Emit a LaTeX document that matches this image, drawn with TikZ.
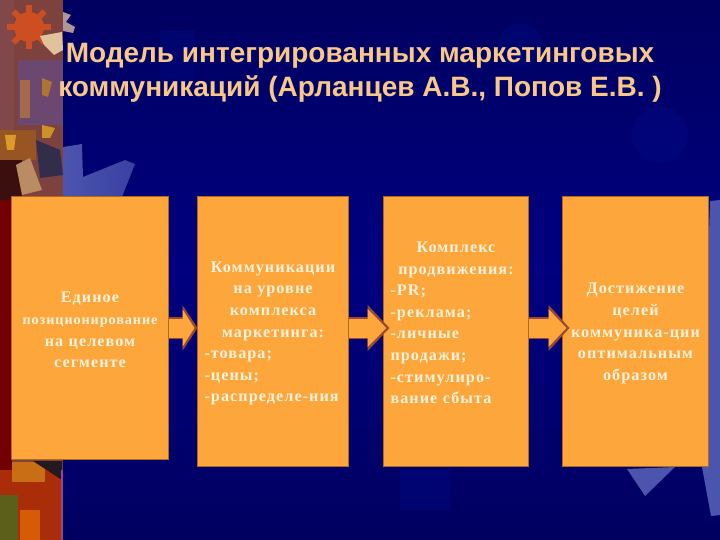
\documentclass[tikz,border=0pt]{standalone}
\usepackage{fontspec}
\setmainfont{Liberation Serif}
\newfontfamily\titlefont{Liberation Sans}
\usetikzlibrary{arrows.meta}
\definecolor{navy}{HTML}{000080}
\definecolor{navydark}{HTML}{000060}
\definecolor{navyglow}{HTML}{001090}
\definecolor{slate}{HTML}{4C55AE}
\definecolor{boxfill}{HTML}{FCA63C}
\definecolor{boxedge}{HTML}{B06A20}
\definecolor{arrowedge}{HTML}{9A4A30}
\definecolor{cream}{HTML}{FFF3DC}
\definecolor{titlecol}{HTML}{F8C888}
\newcommand{\midline}[1]{\centerline{#1}\par}
\newcommand{\wide}[1]{\addfontfeatures{LetterSpace=#1}}
\newcommand{\lowertext}{\par\vspace{-4pt}}
\begin{document}
\begin{tikzpicture}[x=1pt,y=-1pt,
  stepbox/.style={draw=boxedge, line width=1.5pt, fill=boxfill, text=cream, font=\bfseries\fontsize{16.2}{21.6}\selectfont\wide{6.5}, inner xsep=7pt, inner ysep=0pt, outer sep=0pt, anchor=north west},
  arrowout/.style={line width=21.5pt, arrowedge, -{Triangle[length=#1,width=45pt]}},
  arrowin/.style={line width=19pt, boxfill, -{Triangle[length=#1,width=37pt]}},
  patch/.style={draw=none}]
\useasboundingbox (0,0) rectangle (720,540);
% background
\fill[top color=navydark, bottom color=navydark, middle color=navy] (0,0) rectangle (720,540);
\fill[navyglow, opacity=.25] (160,30) rectangle (195,90);
\fill[navyglow, opacity=.25] (520,45) circle (22);
\fill[navyglow, opacity=.25] (660,135) circle (28);
\fill[navyglow, opacity=.3] (400,470) rectangle (450,510);
\fill[left color=slate, right color=slate!75!navy] (63,147) -- (82,144) -- (83,177) -- (125,160) -- (135,164) -- (122,197) -- (63,197) -- cycle;
\fill[slate] (710,201) -- (720,200) -- (720,515) -- (711,516) -- (702,467) -- cycle;
\fill[slate] (627,469) -- (675,467) -- (645,496) -- cycle;
% left strip
\fill[patch, fill={rgb,255:red,125;green,65;blue,62}] (0,0) rectangle (63,540);
\fill[patch, fill=red!45!black] (0,190) rectangle (12,470);
\fill[patch, fill={rgb,255:red,128;green,72;blue,72}] (0,0) rectangle (14,130);
\fill[patch, fill={rgb,255:red,108;green,72;blue,112}] (18,60) rectangle (63,125);
\fill[patch, fill={rgb,255:red,165;green,105;blue,75}] (20,80) rectangle (30,118);
\fill[patch, fill={rgb,255:red,175;green,115;blue,50}] (42,78) -- (52,82) -- (48,97) -- (42,95) -- cycle;
\fill[patch, fill={rgb,255:red,205;green,145;blue,40}] (42,125) -- (55,128) -- (50,138) -- (42,138) -- cycle;
\fill[patch, fill={rgb,255:red,150;green,85;blue,35}] (0,130) rectangle (36,160);
\fill[patch, fill={rgb,255:red,220;green,155;blue,40}] (5,135) -- (16,135) -- (14,150) -- (7,150) -- cycle;
\fill[patch, fill={rgb,255:red,60;green,15;blue,15}] (0,160) rectangle (22,200);
\fill[patch, fill={rgb,255:red,50;green,45;blue,75}] (36,140) -- (60,150) -- (63,175) -- (40,178) -- cycle;
\fill[patch, fill={rgb,255:red,185;green,140;blue,100}] (16,165) -- (30,158) -- (42,190) -- (22,195) -- cycle;
\fill[patch, fill={rgb,255:red,205;green,78;blue,32}] (29,27) circle (15);
\foreach \i in {0,45,...,315}{\fill[patch, fill={rgb,255:red,205;green,78;blue,32}, rotate around={\i:(29,27)}] (26,5) rectangle (32,14);}
\fill[patch, fill={rgb,255:red,225;green,195;blue,155}] (40,36) -- (62,32) -- (63,50) -- (54,55) -- (44,45) -- cycle;
\fill[patch, fill={rgb,255:red,175;green,150;blue,155}] (63,12) -- (71,15) -- (66,22) -- (75,27) -- (73,33) -- (63,31) -- cycle;
\fill[patch, fill={rgb,255:red,170;green,45;blue,10}] (0,470) rectangle (63,540);
\fill[patch, fill={rgb,255:red,200;green,110;blue,20}] (12,462) rectangle (45,482);
\fill[patch, fill={rgb,255:red,35;green,25;blue,30}] (33,461) -- (62,461) -- (62,480) -- cycle;
\fill[patch, fill={rgb,255:red,90;green,95;blue,25}] (0,495) rectangle (18,540);
\fill[patch, fill={rgb,255:red,215;green,90;blue,5}] (20,510) rectangle (40,540);
\fill[patch, fill={rgb,255:red,150;green,70;blue,140}] (61,470) rectangle (63,540);
% title
\node[font=\titlefont\bfseries\fontsize{28}{34.5}\selectfont, text=titlecol, align=center] (title) at (360,73) {Модель интегрированных маркетинговых\\коммуникаций (Арланцев А.В., Попов Е.В. )};
% boxes
\node[stepbox, text width=143pt, minimum height=263pt] (unified) at (11.5,196.5) {%
\midline{Единое}\midline{\fontsize{14.2}{21.6}\selectfont позиционирование}\midline{на целевом}\midline{сегменте}\lowertext};
\node[stepbox, text width=137pt, minimum height=270pt] (levels) at (197.5,196.5) {%
\midline{Коммуникации}\midline{на уровне}\midline{комплекса}\midline{маркетинга:}
-товара;\par -цены;\par -распределе-ния\lowertext};
\node[stepbox, text width=131pt, minimum height=270pt] (promo) at (383.5,196.5) {%
\midline{Комплекс}\midline{продвижения:}
-PR;\par -реклама;\par -личные\par продажи;\par -стимулиро-\par вание сбыта\par\mbox{}\lowertext};
\node[stepbox, text width=132pt, minimum height=270pt] (goal) at (562.5,196.5) {%
\midline{Достижение}\midline{целей}\midline{коммуника-ции}\midline{оптимальным}\midline{образом}\lowertext};
% arrows
\foreach \a/\b/\c/\d in {unified/levels/0/15, levels/promo/6/22, promo/goal/7/21}{
\draw[arrowout=\d pt] (\a.east |- unified.east) -- ([xshift=\c]\b.west |- unified.east);
\draw[arrowin=\d pt-3pt] (\a.east |- unified.east) -- ([xshift=\c-3]\b.west |- unified.east);
}
\end{tikzpicture}
\end{document}
